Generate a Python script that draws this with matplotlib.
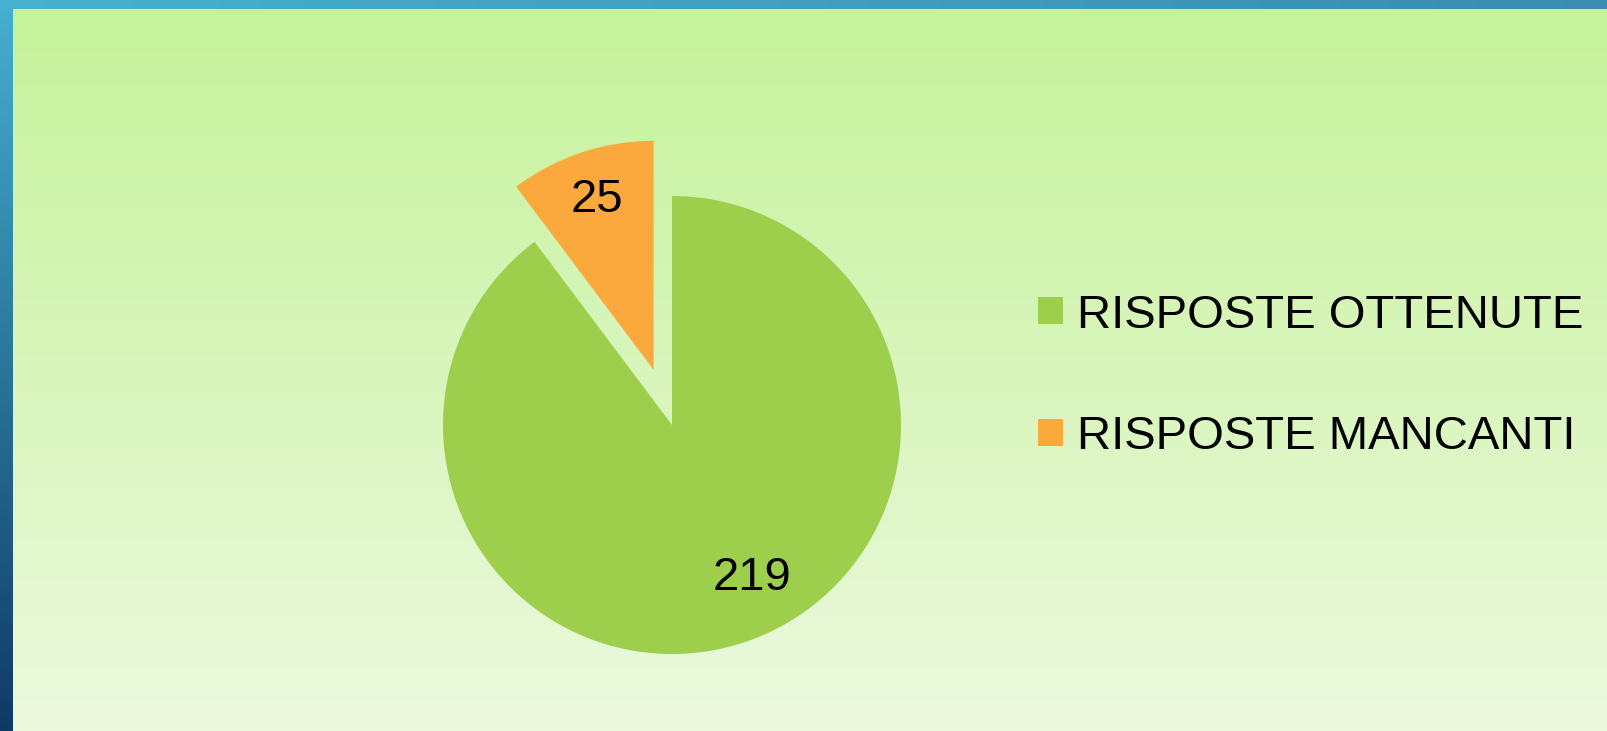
import numpy as np
import matplotlib.pyplot as plt

# dati
categorie = ['RISPOSTE OTTENUTE', 'RISPOSTE MANCANTI']
valori = [219, 25]
colori = ['#9dce4c', '#fba83c']
esplodi = [0, 0.254]

plt.rcParams['font.family'] = ['Liberation Sans', 'DejaVu Sans']

W, H = 1608, 731
fig = plt.figure(figsize=(W / 100, H / 100), dpi=100)

# sfondo: cornice blu a sinistra/in alto, pannello verde sfumato
t = np.linspace(0, 1, H)[:, None, None]
verde_top = np.array([197, 242, 153]) / 255
verde_bot = np.array([236, 249, 222]) / 255
bg = np.repeat(verde_top * (1 - t) + verde_bot * t, W, axis=1)
blu_top = np.array([70, 177, 208]) / 255
blu_bot = np.array([14, 58, 102]) / 255
blu_dx = np.array([58, 140, 180]) / 255
sx, st = 13, 9
bg[:, :sx] = (blu_top * (1 - t) + blu_bot * t)
u = np.linspace(0, 1, W)[:, None]
bg[:st, :] = (blu_top * (1 - u) + blu_dx * u)[None, :, :]
axbg = fig.add_axes([0, 0, 1, 1], zorder=-1)
axbg.imshow(bg, aspect='auto', interpolation='bilinear')
axbg.axis('off')

# torta
r_px = 229
cx, cy = 672, H - 425
lim = 1.3
lato = 2 * lim * r_px
ax = fig.add_axes([(cx - lato / 2) / W, (cy - lato / 2) / H, lato / W, lato / H])
ax.patch.set_alpha(0)
wedges, testi, numeri = ax.pie(valori, colors=colori, explode=esplodi, startangle=90,
                               counterclock=False,
                               autopct=lambda p: f'{p * sum(valori) / 100:.0f}',
                               pctdistance=0.78,
                               textprops=dict(fontsize=34, color='black'))
# etichetta della fetta grande spostata come nell'originale
w = wedges[0]
ang = np.deg2rad((w.theta1 + w.theta2) / 2 + 9)
numeri[0].set_position((w.center[0] + 0.755 * np.cos(ang), w.center[1] + 0.755 * np.sin(ang)))
ax.set_xlim(-lim, lim)
ax.set_ylim(-lim, lim)
ax.set_aspect('equal')
ax.axis('off')

fig.legend(wedges, categorie, loc='center left', bbox_to_anchor=(1038 / W, 354.5 / H),
           frameon=False, fontsize=34, handlelength=0.53, handleheight=0.5,
           handletextpad=0.3, labelspacing=1.65, borderpad=0, borderaxespad=0)

fig.savefig('out.png', dpi=100)
